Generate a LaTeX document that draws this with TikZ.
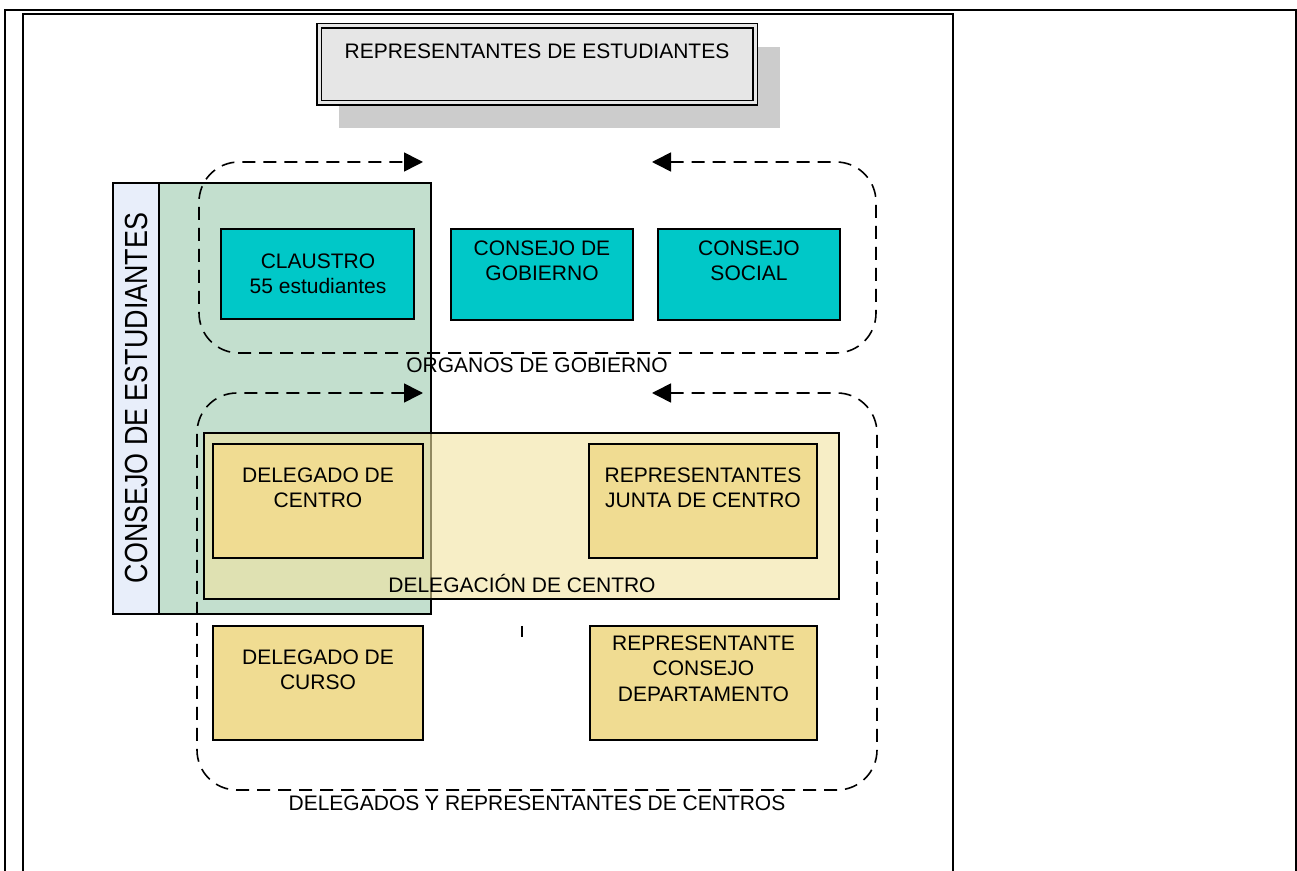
\documentclass[tikz,border=0pt]{standalone}
\usepackage{fontspec}
\setmainfont{Liberation Sans}
\usetikzlibrary{arrows.meta,fit}

\definecolor{govcyan}{RGB}{0,200,200}
\definecolor{consejogreen}{RGB}{195,223,206}
\definecolor{consejoblue}{RGB}{232,238,250}
\definecolor{delyellow}{RGB}{240,220,146}
\definecolor{centrofill}{RGB}{242,227,160}
\definecolor{titlegray}{RGB}{230,230,230}
\definecolor{shadowgray}{RGB}{204,204,204}

\tikzset{
  box/.style={draw, line width=0.75pt, inner sep=0pt},
  govbox/.style={box, fill=govcyan},
  delbox/.style={box, fill=delyellow},
  lbl/.style={inner sep=0pt, align=center, font=\fontsize{10.5}{12.9}\selectfont},
  dashloop/.style={line width=0.8pt, dash pattern=on 6.5pt off 4pt, rounded corners=20pt,
    {Triangle[length=9.5pt,width=9.5pt]}-{Triangle[length=9.5pt,width=9.5pt]}}
}

\begin{document}
\begin{tikzpicture}[x=0.5pt,y=-0.5pt]
            \useasboundingbox (0,0) rectangle (1297,871);
            % marco de la tabla
            \draw[line width=1pt] (5,871)--(5,10)--(1296,10)--(1296,871);
            \draw[line width=0.6pt] (23,871)--(23,14)--(953,14)--(953,871);
            % titulo
            \node[fill=shadowgray, inner sep=0pt, fit={(339,47) (780,128)}] (titleshadow) {};
            \node[draw, fill=titlegray, line width=0.6pt, double=titlegray, double distance=1.5pt, inner sep=0pt,
                  fit={(319,26) (755,103)}] (title) {};
            % consejo de estudiantes
            \node[box, fill=consejogreen, fit={(159,183) (431,614)}] (consejo) {};
            \node[box, fill=consejoblue, fit={(113,183) (159,614)}] (consejobar) {};
            % organos de gobierno
            \coordinate (og-left) at (423,162);
            \coordinate (og-right) at (652,162);
            \draw[dashloop] (og-right) -- (876,162) -- (876,353) -- (199,353) -- (199,162) -- (og-left);
            \node[govbox, fit={(221,229) (414,319)}] (claustro) {};
            \node[govbox, fit={(451,229) (633,320)}] (gobierno) {};
            \node[govbox, fit={(658,229) (840,320)}] (social) {};
            % delegados y representantes
            \coordinate (dr-left) at (423,393);
            \coordinate (dr-right) at (652,393);
            \draw[dashloop] (dr-right) -- (877,393) -- (877,790) -- (197,790) -- (197,393) -- (dr-left);
            \node[box, fill=centrofill, fill opacity=0.6, fit={(204,433) (839,599)}] (delegacion) {};
            \node[delbox, fit={(213,444) (423,558)}] (delcentro) {};
            \node[delbox, fit={(589,444) (817,558)}] (junta) {};
            \node[delbox, fit={(213,626) (423,740)}] (curso) {};
            \node[delbox, fit={(590,626) (817,740)}] (departamento) {};
            \draw[line width=0.75pt] (522,626)--(522,637);
            % textos
            \node[lbl, anchor=north] (title-txt) at (537,43) {REPRESENTANTES DE ESTUDIANTES};
            \node[inner sep=0pt, rotate=90, font=\fontsize{13.45}{16}\selectfont] (consejo-txt) at (136.5,398)
                {\scalebox{1}[1.19]{CONSEJO DE ESTUDIANTES}};
            \node[lbl, anchor=north] (claustro-txt) at (318,253) {CLAUSTRO\\55 estudiantes};
            \node[lbl, anchor=north] (gobierno-txt) at (542,240) {CONSEJO DE\\GOBIERNO};
            \node[lbl, anchor=north] (social-txt) at (749,240) {CONSEJO\\SOCIAL};
            \node[lbl, anchor=base] (og-txt) at (537,373) {ORGANOS DE GOBIERNO};
            \node[lbl, anchor=north] (delcentro-txt) at (318,467) {DELEGADO DE\\CENTRO};
            \node[lbl, anchor=north] (junta-txt) at (703,467) {REPRESENTANTES\\JUNTA DE CENTRO};
            \node[lbl, anchor=base] (delegacion-txt) at (522,593) {DELEGACIÓN DE CENTRO};
            \node[lbl, anchor=north] (curso-txt) at (318,649) {DELEGADO DE\\CURSO};
            \node[lbl, anchor=north] (departamento-txt) at (703.5,635) {REPRESENTANTE\\CONSEJO\\DEPARTAMENTO};
            \node[lbl, anchor=base] (dr-txt) at (537,810) {DELEGADOS Y REPRESENTANTES DE CENTROS};
        \end{tikzpicture}
\end{document}
